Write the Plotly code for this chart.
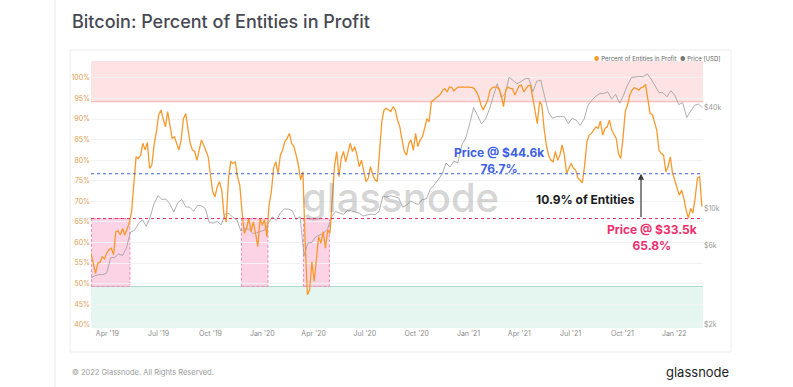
import plotly.graph_objects as go
import pandas as pd

# ---------------- data ----------------
pct_start = "2019-03-03"
pct_step = "4D"
pct_in_profit = [
    57.4, 54.5, 52.5, 54.9, 55.2, 56.5, 56.0, 57.4, 58.2, 58.6,
    57.0, 62.6, 62.8, 61.8, 63.4, 61.8, 63.3, 64.7, 67.5, 75.2,
    80.8, 80.4, 81.2, 84.1, 82.5, 84.3, 78.0, 78.8, 83.7, 86.9,
    90.9, 92.2, 90.1, 88.1, 91.8, 88.9, 85.3, 85.7, 84.1, 82.5,
    84.9, 90.1, 91.3, 88.1, 84.1, 82.5, 82.1, 80.0, 82.1, 84.9,
    83.7, 82.1, 80.8, 76.4, 72.3, 71.1, 73.5, 74.8, 72.7, 66.7,
    65.0, 75.6, 79.6, 79.2, 79.6, 76.0, 74.0, 67.5, 62.2,
    63.4, 65.9, 62.6, 65.0, 62.2, 59.0, 65.9, 64.2, 65.5, 61.4,
    69.1, 72.3, 78.0, 79.6, 76.8, 81.2, 82.4, 84.5, 85.3, 86.5,
    84.1, 83.3, 81.2, 78.8, 75.2, 77.2, 60.2, 47.3, 48.5, 55.3,
    50.5, 57.0, 61.4, 59.8, 62.6, 58.6, 63.0, 62.2, 71.5, 78.4,
    82.1, 76.0, 80.4, 82.1, 79.6, 81.6, 84.1, 82.1, 83.3, 81.2,
    78.4, 80.0, 77.6, 74.8, 75.6, 78.4, 76.4, 75.2, 74.8, 82.4,
    89.3, 92.2, 92.6, 92.2, 91.8, 93.0, 92.2, 89.7, 88.1,
    84.9, 82.1, 81.2, 84.1, 84.9, 82.4, 86.5, 83.3, 84.9, 85.7,
    87.7, 90.1, 89.3, 94.2, 94.6, 95.0, 95.4, 96.0, 97.0, 97.4,
    96.6, 97.8, 97.7, 96.8, 97.4, 97.8, 97.7, 97.8, 97.7, 97.8,
    97.7, 97.7, 97.4, 96.6, 95.4, 93.4, 92.2, 93.4, 94.6, 97.0,
    97.6, 97.8, 97.7, 97.4, 95.8, 93.0, 97.0, 97.8, 97.4, 97.4,
    95.8, 97.0, 98.1, 98.2, 96.6, 97.4, 98.1, 98.2, 95.0, 91.4,
    88.9, 94.2, 93.4, 87.7, 83.7, 81.2, 80.0, 79.6,
    82.1, 80.0, 81.2, 83.7, 81.2, 76.8, 78.0, 79.2, 78.0, 77.6,
    75.7, 75.2, 74.5, 78.8, 84.5, 86.1, 86.5, 87.3, 88.1, 87.7,
    89.5, 86.1, 87.7, 88.1, 89.7, 87.3, 86.1, 85.3, 81.6, 80.4,
    85.3, 91.8, 93.4, 95.8, 97.0, 97.6, 97.4, 97.0, 97.6, 97.8,
    98.4, 95.0, 91.4, 91.1, 89.3, 87.3, 82.4, 81.6, 81.2, 77.2,
    78.4, 80.8, 76.8, 74.9, 73.5, 71.5, 72.7, 70.7, 67.9, 65.9,
    68.3, 67.1, 70.7, 75.6, 76.0, 68.7,
]

price_start = "2019-03-03"
price_step = "7D"
price_usd = [
    3820, 3940, 4000, 3990, 4100, 5050, 5070, 5330, 5200, 5800,
    7200, 7350, 8050, 8550, 7800, 8850, 10700, 11900, 11300, 11350,
    10600, 9500, 10800, 11300, 10200, 10150, 9600, 10400, 10350, 9950,
    8200, 8150, 8330, 7950, 9250, 9300, 8800, 8500, 7300, 7550,
    7500, 7070, 7140, 7300,
    7400, 8180, 8900, 8450, 9380, 9900, 9900, 9700, 8550, 8900,
    5200, 6200, 6250, 6750, 6900, 7100, 7550, 8900, 9550, 9380,
    9180, 9700, 9650, 9470, 9350, 9000, 9070, 9230, 9170, 9550,
    11800, 11700, 11900, 11680, 11530, 10150, 10440, 11080, 10730, 10550,
    11300, 11370, 13030, 13800, 14800, 16000, 18700, 17700, 19150, 18800,
    24000, 26400,
    32200, 40300, 36000, 32100, 34300, 39300, 47200, 55900, 46200, 48900,
    61200, 58300, 55900, 57600, 59800, 60300, 50100, 57800, 58800, 46800,
    37500, 34700, 35500, 35500, 35500, 32200, 34700, 33800, 31500, 34300,
    41600, 44600, 47100, 48900, 48900, 50000, 45200, 48300, 42700, 47700,
    54900, 60900, 61300, 61900, 61500, 64100, 59700, 54800, 49400, 49400,
    46700, 50800,
    47700, 41900, 43100, 35100, 37900, 41500, 42200, 40100,
]

pct_ticks = [40, 45, 50, 55, 60, 65, 70, 75, 80, 85, 90, 95, 100]
pct_tick_labels = ["40%", "45%", "50%", "55%", "60%", "65%", "70%",
                   "75%", "80%", "85%", "90%", "95%", "100%"]
price_ticks = [2000, 6000, 10000, 40000]
price_tick_labels = ["$2k", "$6k", "$10k", "$40k"]

high_zone_from = 94.2
low_zone_to = 49.3
level_high = 76.7
level_low = 65.8
below_periods = [("2019-03-04", "2019-05-11"),
                 ("2019-11-25", "2020-01-11"),
                 ("2020-03-14", "2020-04-29")]
arrow_date = "2021-11-03"

x_range = ["2019-03-03", "2022-02-21"]
pct_range = [39.2, 104.1]
price_log_range = [3.2815, 4.884]

ORANGE = "#f79a2e"
GREY = "#9b9b9b"
BLUE = "#3d5fe6"
PINK = "#ec2f6e"
FONT = "Inter"

pct_dates = pd.date_range(pct_start, periods=len(pct_in_profit), freq=pct_step)
price_dates = pd.date_range(price_start, periods=len(price_usd), freq=price_step)

fig = go.Figure()
fig.add_trace(go.Scatter(x=price_dates, y=price_usd, yaxis="y", mode="lines",
                         line=dict(color=GREY, width=0.8), name="Price [USD]"))
fig.add_trace(go.Scatter(x=pct_dates, y=pct_in_profit, yaxis="y2", mode="lines",
                         line=dict(color=ORANGE, width=1.3),
                         name="Percent of Entities in Profit"))

shapes = []
# page divider and card
shapes.append(dict(type="line", xref="paper", yref="paper", x0=-0.0588, x1=-0.0588,
                   y0=-0.2247, y1=1.2285, line=dict(color="#e8e8e8", width=1), layer="below"))
shapes.append(dict(type="rect", xref="paper", yref="paper", x0=-0.0343, x1=1.0458,
                   y0=-0.0899, y1=1.0412, line=dict(color="#ececec", width=1),
                   fillcolor="rgba(0,0,0,0)", layer="below"))
# zones
shapes.append(dict(type="rect", xref="paper", yref="y2", x0=0, x1=1,
                   y0=high_zone_from, y1=pct_range[1], fillcolor="#fde3e3",
                   line=dict(width=0), layer="below"))
shapes.append(dict(type="line", xref="paper", yref="y2", x0=0, x1=1,
                   y0=high_zone_from, y1=high_zone_from,
                   line=dict(color="#f2aeb0", width=1), layer="below"))
shapes.append(dict(type="rect", xref="paper", yref="y2", x0=0, x1=1,
                   y0=pct_range[0], y1=low_zone_to, fillcolor="#e5f5ef",
                   line=dict(width=0), layer="below"))
shapes.append(dict(type="line", xref="paper", yref="y2", x0=0, x1=1,
                   y0=low_zone_to, y1=low_zone_to,
                   line=dict(color="#a9dcc8", width=1), layer="below"))
for a, b in below_periods:
    shapes.append(dict(type="rect", xref="x", yref="y2", x0=a, x1=b,
                       y0=low_zone_to, y1=level_low,
                       fillcolor="rgba(247,140,185,0.38)",
                       line=dict(color="#f28bb8", width=1, dash="3px,2px"),
                       layer="below"))
# levels
shapes.append(dict(type="line", xref="paper", yref="y2", x0=0, x1=1,
                   y0=level_high, y1=level_high,
                   line=dict(color=BLUE, width=1.1, dash="3px,3px"), layer="above"))
shapes.append(dict(type="line", xref="paper", yref="y2", x0=0, x1=1,
                   y0=level_low, y1=level_low,
                   line=dict(color=PINK, width=1.1, dash="3px,3px"), layer="above"))

annotations = [
    dict(text="Bitcoin: Percent of Entities in Profit", xref="paper", yref="paper",
         x=-0.0343, y=1.1498, xanchor="left", yanchor="middle", showarrow=False,
         font=dict(family=FONT, size=18, color="#474953", weight=500)),
    dict(text="© 2022 Glassnode. All Rights Reserved.", xref="paper", yref="paper",
         x=-0.0343, y=-0.1685, xanchor="left", yanchor="middle", showarrow=False,
         font=dict(family=FONT, size=7.5, color="#9a9a9a")),
    dict(text="glassnode", xref="paper", yref="paper",
         x=1.0458, y=-0.1648, xanchor="right", yanchor="middle", showarrow=False,
         font=dict(family=FONT, size=13, color="#1f1f1f")),
    dict(text="glassnode", xref="paper", yref="paper",
         x=0.5065, y=0.4906, xanchor="center", yanchor="middle", showarrow=False,
         font=dict(family=FONT, size=40, color="rgba(110,110,110,0.3)", weight=500)),
    dict(text=f"<span style='color:{ORANGE}'>●</span> Percent of Entities in Profit",
         xref="paper", yref="paper", x=0.8186, y=1.0075, xanchor="left",
         yanchor="middle", showarrow=False,
         font=dict(family=FONT, size=6, color="#666666")),
    dict(text=f"<span style='color:#777777'>●</span> Price [USD]",
         xref="paper", yref="paper", x=0.9591, y=1.0075, xanchor="left",
         yanchor="middle", showarrow=False,
         font=dict(family=FONT, size=6, color="#666666")),
    dict(text="<b>Price @ $44.6k<br>76.7%</b>", xref="paper", yref="paper",
         x=0.6667, y=0.6273, xanchor="center", yanchor="middle", showarrow=False,
         font=dict(family=FONT, size=12, color=BLUE)),
    dict(text="<b>10.9% of Entities</b>", xref="paper", yref="paper",
         x=0.8922, y=0.4831, xanchor="right", yanchor="middle", showarrow=False,
         font=dict(family=FONT, size=12, color="#1c1c1c")),
    dict(text="<b>Price @ $33.5k<br>65.8%</b>", xref="paper", yref="paper",
         x=0.9167, y=0.339, xanchor="center", yanchor="middle", showarrow=False,
         font=dict(family=FONT, size=12, color=PINK)),
    dict(text="", xref="x", yref="y2", x=arrow_date, y=level_high,
         axref="x", ayref="y2", ax=arrow_date, ay=level_low, showarrow=True,
         arrowhead=2, arrowsize=1, arrowwidth=1.2, arrowcolor="#3a3a3a", standoff=0),
]

fig.update_layout(
    width=793, height=387,
    margin=dict(l=91, r=90, t=61, b=59),
    paper_bgcolor="white", plot_bgcolor="rgba(0,0,0,0)",
    showlegend=False,
    font=dict(family=FONT),
    shapes=shapes, annotations=annotations,
    xaxis=dict(type="date", range=x_range, tick0="2019-01-01", dtick="M3",
               tickformat="%b '%y", showgrid=False, zeroline=False, showline=False,
               ticks="", tickfont=dict(family=FONT, size=7, color="#8a8a8a")),
    yaxis=dict(type="log", side="right", range=price_log_range,
               tickvals=price_ticks, ticktext=price_tick_labels, showgrid=False,
               zeroline=False, showline=False, ticks="",
               tickfont=dict(family=FONT, size=7, color="#9a9a9a")),
    yaxis2=dict(overlaying="y", side="left", range=pct_range,
                tickvals=pct_ticks, ticktext=pct_tick_labels, showgrid=True,
                gridcolor="#f2f2f2", gridwidth=1, zeroline=False, showline=False,
                ticks="", tickfont=dict(family=FONT, size=7, color="#e39a4e")),
)

fig.write_html("out.html", config={"displayModeBar": False},
               post_script="document.body.style.margin='0';document.body.style.overflow='hidden';")
